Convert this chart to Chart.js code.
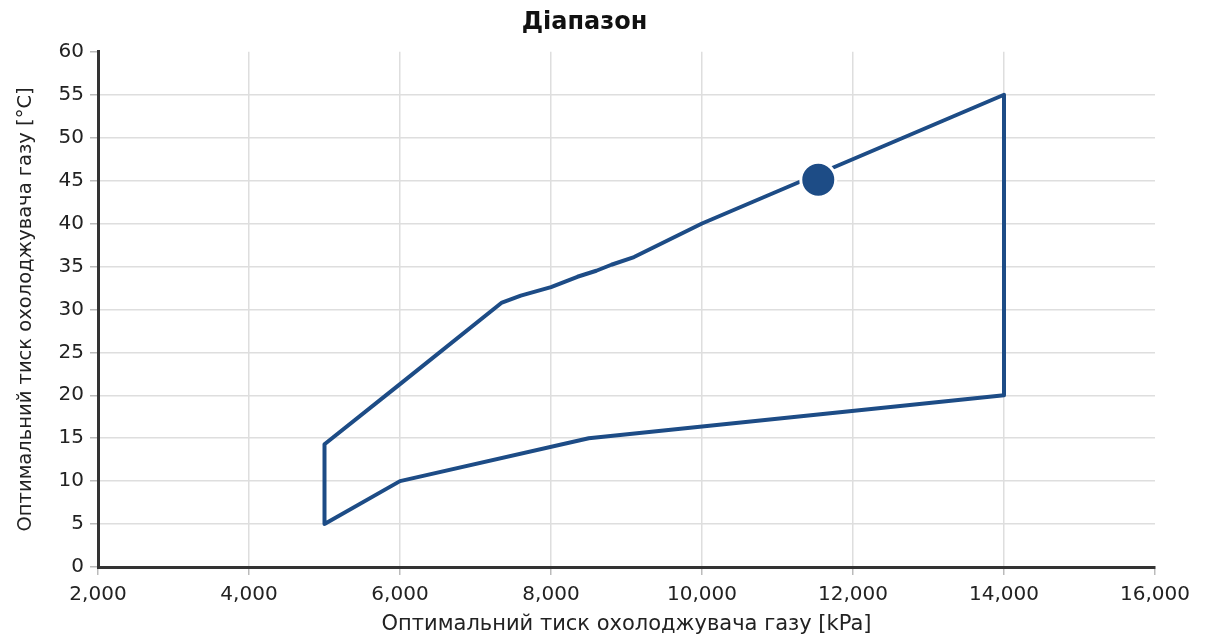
<!DOCTYPE html>
<html lang="uk">
<head>
<meta charset="UTF-8">
<title>Діапазон</title>
<script src="https://cdn.jsdelivr.net/npm/chart.js"></script>
<style>
  html, body { margin: 0; padding: 0; background: #fff; }
  .chart-box { position: relative; width: 1214px; height: 639px; }
</style>
</head>
<body>
<div class="chart-box">
  <canvas id="range-chart"></canvas>
</div>
<script>
  // Outline of the operating range, walked round clockwise from the bottom-left corner
  const rangePressure = [5000, 6000, 8500, 14000, 14000, 10000, 9100, 8800, 8600, 8350, 8000, 7600, 7350, 6000, 5000, 5000];
  const rangeTemp     = [5,    10,   15,   20,    55,    40,    36.1, 35.2, 34.5, 33.8, 32.6, 31.6, 30.8, 21.3, 14.3, 5];

  // Current operating point
  const pointPressure = [11540];
  const pointTemp     = [45.1];

  const xTicks = [2000, 4000, 6000, 8000, 10000, 12000, 14000, 16000];
  const yTicks = [0, 5, 10, 15, 20, 25, 30, 35, 40, 45, 50, 55, 60];

  const lineBlue = '#1d4c86';
  const font = 'Verdana, "DejaVu Sans", sans-serif';

  const toXY = (xs, ys) => xs.map((x, i) => ({ x: x, y: ys[i] }));

  new Chart(document.getElementById('range-chart'), {
    type: 'scatter',
    data: {
      datasets: [
        {
          label: 'Робоча точка',
          data: toXY(pointPressure, pointTemp),
          pointRadius: 17.5,
          pointBackgroundColor: lineBlue,
          pointBorderColor: '#ffffff',
          pointBorderWidth: 3,
          showLine: false,
          order: 0
        },
        {
          label: 'Діапазон',
          data: toXY(rangePressure, rangeTemp),
          showLine: true,
          borderColor: lineBlue,
          borderWidth: 4,
          borderJoinStyle: 'round',
          pointRadius: 0,
          tension: 0,
          order: 1
        }
      ]
    },
    options: {
      responsive: true,
      maintainAspectRatio: false,
      animation: false,
      layout: { padding: { left: 14, right: 59, top: 0, bottom: 2 } },
      plugins: {
        legend: { display: false },
        tooltip: { enabled: false },
        title: {
          display: true,
          text: 'Діапазон',
          color: '#111',
          font: { family: font, size: 24, weight: 'bold' },
          padding: { top: 8, bottom: 15 }
        }
      },
      scales: {
        x: {
          type: 'linear',
          min: 2000,
          max: 16000,
          afterBuildTicks: (axis) => { axis.ticks = xTicks.map(v => ({ value: v })); },
          afterFit: (axis) => { axis.height = 70; },
          ticks: {
            color: '#222',
            font: { family: font, size: 20 },
            padding: 8,
            maxRotation: 0,
            callback: (v) => v.toLocaleString('en-US')
          },
          grid: {
            color: (ctx) => ctx.tick && ctx.tick.value === 16000 ? 'rgba(0,0,0,0)' : '#dedede',
            lineWidth: 1.5,
            tickLength: 8,
            tickColor: '#bbbbbb'
          },
          border: { color: '#333', width: 3 },
          title: {
            display: true,
            text: 'Оптимальний тиск охолоджувача газу [kPa]',
            color: '#222',
            font: { family: font, size: 21 },
            padding: { top: 0, bottom: 0 }
          }
        },
        y: {
          min: 0,
          max: 60,
          afterBuildTicks: (axis) => { axis.ticks = yTicks.map(v => ({ value: v })); },
          afterFit: (axis) => { axis.width = 84; },
          ticks: {
            color: '#222',
            font: { family: font, size: 20 },
            padding: 6
          },
          grid: {
            color: (ctx) => ctx.tick && ctx.tick.value === 60 ? 'rgba(0,0,0,0)' : '#dedede',
            lineWidth: 1.5,
            tickLength: 8,
            tickColor: '#bbbbbb'
          },
          border: { color: '#333', width: 3 },
          title: {
            display: true,
            text: 'Оптимальний тиск охолоджувача газу [°C]',
            color: '#222',
            font: { family: font, size: 19.5 },
            padding: { top: 0, bottom: 4 }
          }
        }
      }
    }
  });
</script>
</body>
</html>
